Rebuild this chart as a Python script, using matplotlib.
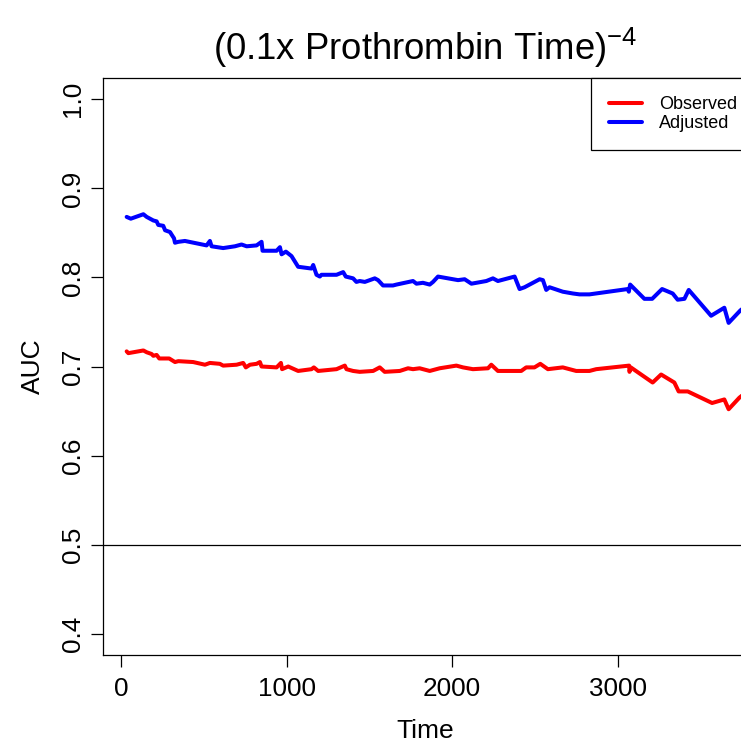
import matplotlib
matplotlib.use("Agg")
import matplotlib.pyplot as plt

plt.rcParams['font.family'] = ['Liberation Sans', 'DejaVu Sans']
plt.rcParams['mathtext.fontset'] = 'custom'
plt.rcParams['mathtext.rm'] = 'Liberation Sans'
plt.rcParams['mathtext.it'] = 'Liberation Sans:italic'
plt.rcParams['mathtext.bf'] = 'Liberation Sans:bold'

title = r'(0.1x Prothrombin Time)$^{-4}$'
x_label = 'Time'
y_label = 'AUC'
x_ticks = [0, 1000, 2000, 3000]
y_ticks = [0.4, 0.5, 0.6, 0.7, 0.8, 0.9, 1.0]
series_names = ['Observed', 'Adjusted']

adj_time = [34, 59, 135, 155, 195, 215, 225, 255, 266, 296, 306, 320, 326, 346, 386,
            517, 537, 547, 617, 688, 728, 759, 819, 849, 855, 940, 960, 970, 996, 1030,
            1070, 1151, 1161, 1181, 1201, 1211, 1302, 1342, 1358, 1402, 1422, 1442, 1473,
            1533, 1553, 1583, 1643, 1664, 1764, 1785, 1824, 1865, 1885, 1915, 2036, 2076,
            2117, 2207, 2247, 2277, 2378, 2408, 2438, 2529, 2549, 2569, 2589, 2669, 2730,
            2770, 2830, 3062, 3068, 3076, 3162, 3209, 3269, 3333, 3363, 3404, 3430, 3565,
            3645, 3671, 3742, 3770]
adj_auc = [0.868, 0.866, 0.871, 0.868, 0.864, 0.863, 0.859, 0.858, 0.853, 0.851, 0.848,
           0.844, 0.839, 0.840, 0.841, 0.836, 0.841, 0.835, 0.833, 0.835, 0.837, 0.835,
           0.836, 0.840, 0.830, 0.830, 0.834, 0.826, 0.829, 0.824, 0.812, 0.810, 0.814,
           0.803, 0.801, 0.803, 0.803, 0.806, 0.801, 0.799, 0.795, 0.796, 0.795, 0.799,
           0.797, 0.791, 0.791, 0.792, 0.796, 0.793, 0.794, 0.792, 0.795, 0.801, 0.797,
           0.798, 0.793, 0.796, 0.799, 0.796, 0.801, 0.787, 0.789, 0.798, 0.797, 0.786,
           0.789, 0.784, 0.782, 0.781, 0.781, 0.787, 0.784, 0.792, 0.776, 0.776, 0.787,
           0.782, 0.775, 0.776, 0.786, 0.757, 0.766, 0.749, 0.763, 0.767]

obs_time = [34, 44, 135, 155, 185, 195, 215, 231, 266, 291, 326, 346, 436, 507, 537, 597,
            617, 698, 738, 754, 779, 819, 839, 849, 940, 966, 973, 1010, 1070, 1151, 1165,
            1191, 1302, 1352, 1362, 1402, 1442, 1523, 1563, 1593, 1684, 1734, 1764, 1804,
            1865, 1925, 2026, 2066, 2126, 2217, 2237, 2277, 2388, 2418, 2448, 2498, 2533,
            2579, 2669, 2750, 2830, 2871, 3070, 3072, 3080, 3212, 3263, 3343, 3369, 3424,
            3571, 3645, 3671, 3736, 3770]
obs_auc = [0.717, 0.715, 0.718, 0.716, 0.714, 0.712, 0.713, 0.709, 0.709, 0.709, 0.705,
           0.706, 0.705, 0.702, 0.704, 0.703, 0.701, 0.702, 0.704, 0.699, 0.702, 0.703,
           0.705, 0.700, 0.699, 0.704, 0.697, 0.700, 0.695, 0.697, 0.699, 0.695, 0.697,
           0.701, 0.697, 0.695, 0.694, 0.695, 0.699, 0.694, 0.695, 0.698, 0.697, 0.698,
           0.695, 0.698, 0.701, 0.699, 0.697, 0.698, 0.702, 0.695, 0.695, 0.695, 0.699,
           0.699, 0.703, 0.697, 0.699, 0.695, 0.695, 0.697, 0.701, 0.694, 0.699, 0.682,
           0.691, 0.682, 0.672, 0.672, 0.659, 0.663, 0.652, 0.665, 0.670]

W, H = 741, 747
fig = plt.figure(figsize=(W / 100, H / 100), dpi=100)
left, right, top, bottom = 103, 747, 78, 655
ax = fig.add_axes([left / W, 1 - bottom / H, (right - left) / W, (bottom - top) / H])

ax.plot(obs_time, obs_auc, color='#FF0000', lw=2.9, label=series_names[0],
        solid_joinstyle='round', solid_capstyle='round')
ax.plot(adj_time, adj_auc, color='#0000FF', lw=2.9, label=series_names[1],
        solid_joinstyle='round', solid_capstyle='round')
ax.axhline(0.5, color='black', lw=0.9)

ax.set_xlim(-109, 3782)
ax.set_ylim(0.376, 1.024)
ax.set_xticks(x_ticks)
ax.set_xticklabels([str(t) for t in x_ticks])
ax.set_yticks(y_ticks)
ax.set_yticklabels([f'{t:.1f}' for t in y_ticks], rotation=90, va='center')
ax.tick_params(axis='both', direction='out', length=8.6, width=0.9, labelsize=18.8)
ax.tick_params(axis='x', pad=7.5)
ax.tick_params(axis='y', pad=4.7)
for s in ax.spines.values():
    s.set_linewidth(0.9)

leg = ax.legend(loc='upper right', bbox_to_anchor=(1.0124, 1), borderaxespad=0,
                fontsize=13, handlelength=1.8, handletextpad=0.95, borderpad=1.0,
                labelspacing=0.1, fancybox=False, framealpha=1, edgecolor='black')
leg.get_frame().set_linewidth(0.9)

fig.text(425 / W, 1 - 60 / H, title, ha='center', va='baseline', fontsize=26.3)
fig.text(425 / W, 1 - 731 / H, x_label, ha='center', va='center', fontsize=19)
fig.text(33 / W, 1 - 366.5 / H, y_label, ha='center', va='center', rotation=90, fontsize=19)

fig.savefig('out.png', dpi=100)
